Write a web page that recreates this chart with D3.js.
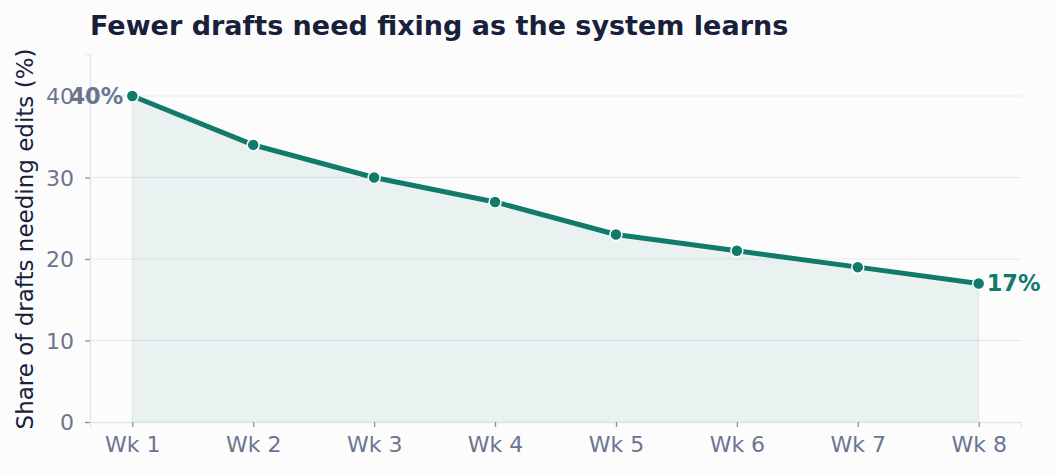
<!DOCTYPE html>
<html>
<head>
<meta charset="utf-8">
<title>Fewer drafts need fixing</title>
<script src="https://d3js.org/d3.v7.min.js"></script>
<style>
    html, body { margin: 0; padding: 0; background: #fcfcfd; }
    svg { display: block; font-family: "DejaVu Sans", sans-serif; }
</style>
</head>
<body>
<svg id="chart"></svg>
<script>
// data
var weeks = ["Wk 1", "Wk 2", "Wk 3", "Wk 4", "Wk 5", "Wk 6", "Wk 7", "Wk 8"];
var shareNeedingEdits = [40, 34, 30, 27, 23, 21, 19, 17];
var yTicks = [0, 10, 20, 30, 40];

var width = 1056, height = 475;
var margin = {top: 54, right: 35, bottom: 53, left: 90};

var svg = d3.select("#chart").attr("width", width).attr("height", height);
svg.append("rect").attr("width", width).attr("height", height).attr("fill", "#fcfcfd");

var x = d3.scalePoint().domain(weeks).range([margin.left, width - margin.right]).padding(0.35);
var y = d3.scaleLinear().domain([0, 45.15]).range([height - margin.bottom, margin.top]);

var teal = "#127a6a";
var grey = "#6b7590";

// grid
svg.append("g").selectAll("line").data(yTicks.slice(1)).join("line")
    .attr("x1", margin.left).attr("x2", width - margin.right)
    .attr("y1", function(d){ return y(d); }).attr("y2", function(d){ return y(d); })
    .attr("stroke", "#e3e7ef").attr("stroke-width", 1.2);

// area
var pts = weeks.map(function(w, i){ return {w: w, v: shareNeedingEdits[i]}; });
svg.append("path").datum(pts)
    .attr("d", d3.area().x(function(d){ return x(d.w); }).y0(y(0)).y1(function(d){ return y(d.v); }))
    .attr("fill", teal).attr("fill-opacity", 0.08)
    .attr("stroke", teal).attr("stroke-opacity", 0.08).attr("stroke-width", 1.5);

// axes
var yAxis = svg.append("g").attr("transform", "translate(" + margin.left + ",0)")
    .call(d3.axisLeft(y).tickValues(yTicks).tickSize(5).tickPadding(11));
var xAxis = svg.append("g").attr("transform", "translate(0," + (height - margin.bottom) + ")")
    .call(d3.axisBottom(x).tickSize(5).tickPadding(9));
[xAxis, yAxis].forEach(function(a){
    a.select(".domain").attr("stroke", "#e1e5ee").attr("stroke-width", 1.5);
    a.selectAll(".tick line").attr("stroke", "#8a92a8").attr("stroke-width", 1.3);
    a.selectAll(".tick text").attr("fill", grey).style("font-size", "22px")
        .style("font-family", "DejaVu Sans, sans-serif");
});
yAxis.selectAll(".tick text").attr("dy", "0.36em");

// line
svg.append("path").datum(pts)
    .attr("d", d3.line().x(function(d){ return x(d.w); }).y(function(d){ return y(d.v); }))
    .attr("fill", "none").attr("stroke", teal).attr("stroke-width", 5)
    .attr("stroke-linejoin", "round").attr("stroke-linecap", "round");

svg.append("g").selectAll("circle").data(pts).join("circle")
    .attr("cx", function(d){ return x(d.w); }).attr("cy", function(d){ return y(d.v); })
    .attr("r", 6).attr("fill", teal).attr("stroke", "#ffffff").attr("stroke-width", 1.5);

// end labels
var first = pts[0], last = pts[pts.length - 1];
svg.append("text").attr("x", x(first.w) - 9).attr("y", y(first.v)).attr("dy", "0.35em")
    .attr("text-anchor", "end").attr("fill", grey).style("font-weight", "bold").style("font-size", "22.5px")
    .text(first.v + "%");
svg.append("text").attr("x", x(last.w) + 8).attr("y", y(last.v)).attr("dy", "0.35em")
    .attr("text-anchor", "start").attr("fill", teal).style("font-weight", "bold").style("font-size", "22.5px")
    .text(last.v + "%");

// title + y label
svg.append("text").attr("x", margin.left).attr("y", 35)
    .attr("fill", "#18213a").style("font-weight", "bold").style("font-size", "27px")
    .text("Fewer drafts need fixing as the system learns");
svg.append("text").attr("transform", "translate(33," + ((margin.top + height - margin.bottom) / 2 + 1) + ") rotate(-90)")
    .attr("text-anchor", "middle").attr("fill", "#18213a").style("font-size", "23px")
    .text("Share of drafts needing edits (%)");
</script>
</body>
</html>
